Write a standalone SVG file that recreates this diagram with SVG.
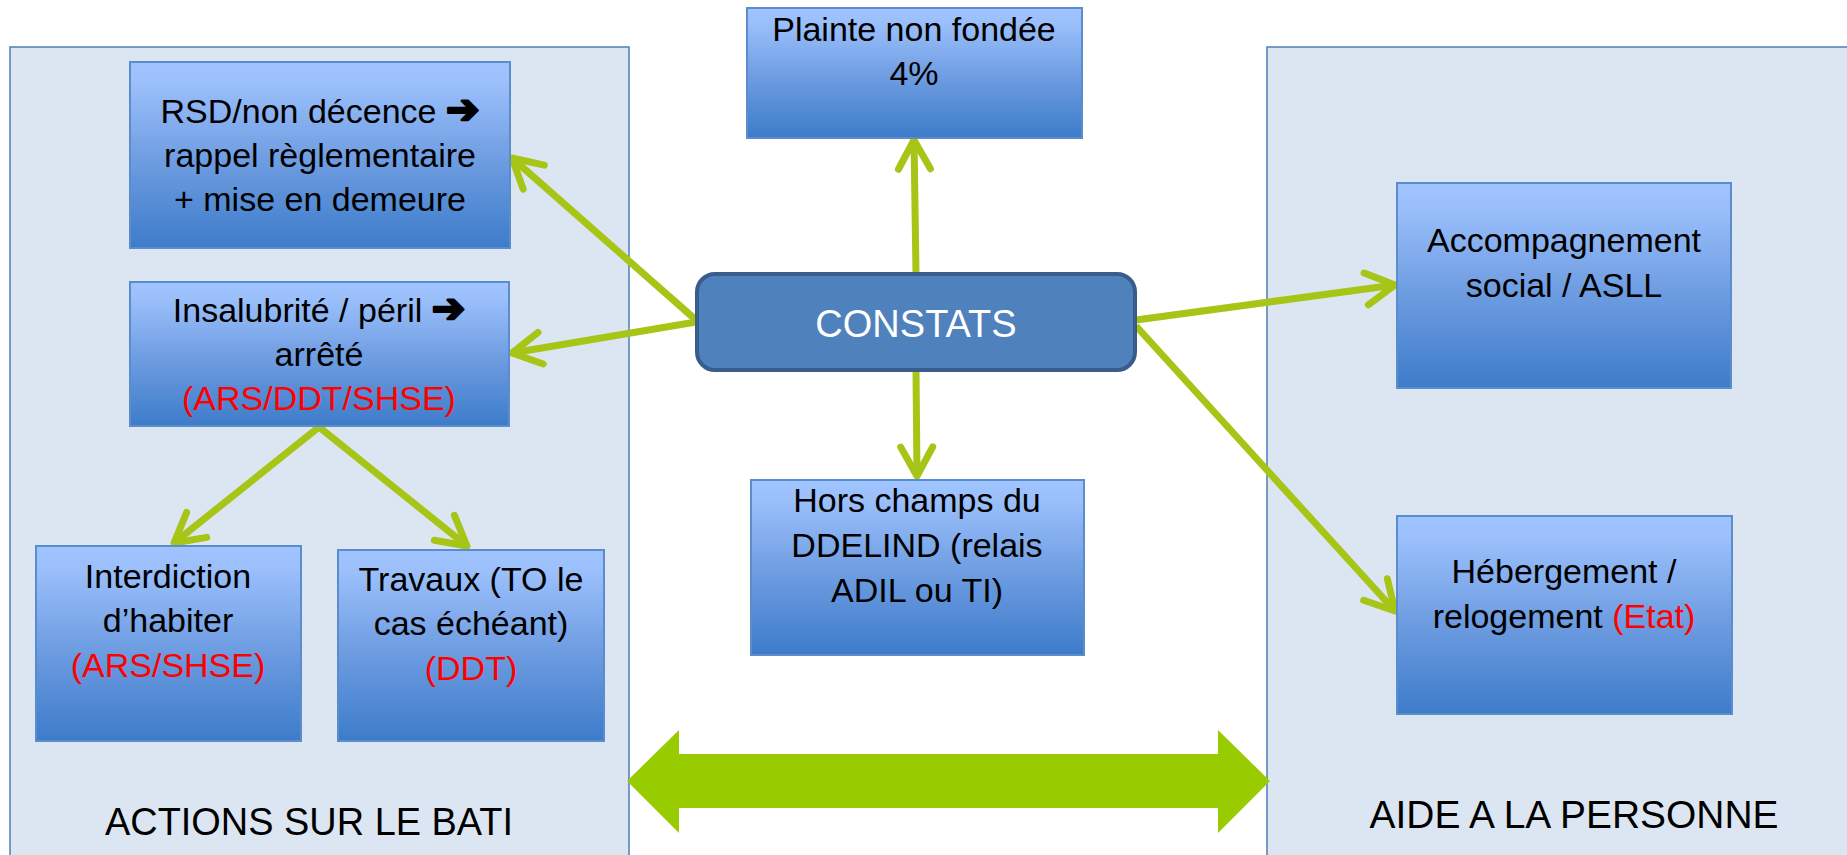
<svg xmlns="http://www.w3.org/2000/svg" width="1847" height="855" viewBox="0 0 1847 855">
<style>
.panel{fill:#DCE6F2;stroke:#4F7DB8;stroke-width:1.5}
.box{fill:url(#boxGrad);stroke:#5B8CCB;stroke-width:2}
.t{font-family:"Liberation Sans",Arial,sans-serif;font-size:34px;fill:#000;text-anchor:middle}
.red{fill:#FF0000}
.big{font-family:"Liberation Sans",Arial,sans-serif;font-size:39px;fill:#000;text-anchor:middle}
.conn{stroke:#A6C517;stroke-width:7;fill:none;marker-end:url(#chev)}
.arr{font-family:"DejaVu Sans",sans-serif;font-weight:bold;font-size:40px;stroke:#000;stroke-width:2.5;stroke-linejoin:round}
</style>
<defs>
<linearGradient id="boxGrad" x1="0" y1="0" x2="0" y2="1">
<stop offset="0" stop-color="#A0C4FF"/>
<stop offset="0.12" stop-color="#9ABFFB"/>
<stop offset="0.55" stop-color="#6C9BE0"/>
<stop offset="1" stop-color="#3D7CCA"/>
</linearGradient>
<marker id="chev" markerUnits="userSpaceOnUse" orient="auto" refX="0" refY="0" markerWidth="80" markerHeight="80" viewBox="-40 -40 80 80" overflow="visible">
<path d="M-29,-16 L0,0 L-29,16" fill="none" stroke="#A6C517" stroke-width="7" stroke-linecap="round" stroke-linejoin="round"/>
</marker>
</defs>
<rect width="1847" height="855" fill="#FFFFFF"/>

<g id="panel-bati">
<rect class="panel" x="10" y="47" width="619" height="820"/>
<text class="big" x="309" y="835" textLength="408" lengthAdjust="spacingAndGlyphs">ACTIONS SUR LE BATI</text>
</g>
<g id="panel-personne">
<rect class="panel" x="1267" y="47" width="600" height="820"/>
<text class="big" x="1574" y="828" textLength="409" lengthAdjust="spacingAndGlyphs">AIDE A LA PERSONNE</text>
</g>

<g id="connectors">
<line class="conn" x1="916" y1="273" x2="914" y2="140"/>
<line class="conn" x1="916" y1="370" x2="917" y2="476"/>
<line class="conn" x1="696" y1="320" x2="512" y2="158"/>
<line class="conn" x1="696" y1="322" x2="512" y2="353"/>
<line class="conn" x1="1136" y1="320" x2="1395" y2="285"/>
<line class="conn" x1="1136" y1="326" x2="1395" y2="611"/>
<line class="conn" x1="319" y1="427" x2="174" y2="543"/>
<line class="conn" x1="319" y1="427" x2="467" y2="546"/>
<polygon id="double-arrow" points="627,781 679,730 679,754 1218,754 1218,730 1270,781 1218,833 1218,808 679,808 679,833" fill="#99CC00"/>
</g>

<g id="node-plainte">
<rect class="box" x="747" y="8" width="335" height="130"/>
<text class="t" x="914" y="41">Plainte non fondée</text>
<text class="t" x="914" y="85">4%</text>
</g>

<g id="node-rsd">
<rect class="box" x="130" y="62" width="380" height="186"/>
<text class="t" x="320" y="123">RSD/non décence <tspan class="arr">➔</tspan></text>
<text class="t" x="320" y="167">rappel règlementaire</text>
<text class="t" x="320" y="211">+ mise en demeure</text>
</g>

<g id="node-insalubrite">
<rect class="box" x="130" y="282" width="379" height="144"/>
<text class="t" x="319" y="322">Insalubrité / péril <tspan class="arr">➔</tspan></text>
<text class="t" x="319" y="366">arrêté</text>
<text class="t red" x="319" y="410">(ARS/DDT/SHSE)</text>
</g>

<g id="node-constats">
<rect x="697" y="274" width="438" height="96" rx="18" ry="18" fill="#4F81BD" stroke="#385D8A" stroke-width="4"/>
<text class="t" x="916" y="337" style="font-size:38px;fill:#FFFFFF">CONSTATS</text>
</g>

<g id="node-accompagnement">
<rect class="box" x="1397" y="183" width="334" height="205"/>
<text class="t" x="1564" y="252">Accompagnement</text>
<text class="t" x="1564" y="297">social / ASLL</text>
</g>

<g id="node-hors-champs">
<rect class="box" x="751" y="480" width="333" height="175"/>
<text class="t" x="917" y="512">Hors champs du</text>
<text class="t" x="917" y="557">DDELIND (relais</text>
<text class="t" x="917" y="602">ADIL ou TI)</text>
</g>

<g id="node-hebergement">
<rect class="box" x="1397" y="516" width="335" height="198"/>
<text class="t" x="1564" y="583">Hébergement /</text>
<text class="t" x="1564" y="628">relogement <tspan class="red">(Etat)</tspan></text>
</g>

<g id="node-interdiction">
<rect class="box" x="36" y="546" width="265" height="195"/>
<text class="t" x="168" y="588">Interdiction</text>
<text class="t" x="168" y="632">d’habiter</text>
<text class="t red" x="168" y="677">(ARS/SHSE)</text>
</g>

<g id="node-travaux">
<rect class="box" x="338" y="550" width="266" height="191"/>
<text class="t" x="471" y="591">Travaux (TO le</text>
<text class="t" x="471" y="635">cas échéant)</text>
<text class="t red" x="471" y="680">(DDT)</text>
</g>
</svg>
